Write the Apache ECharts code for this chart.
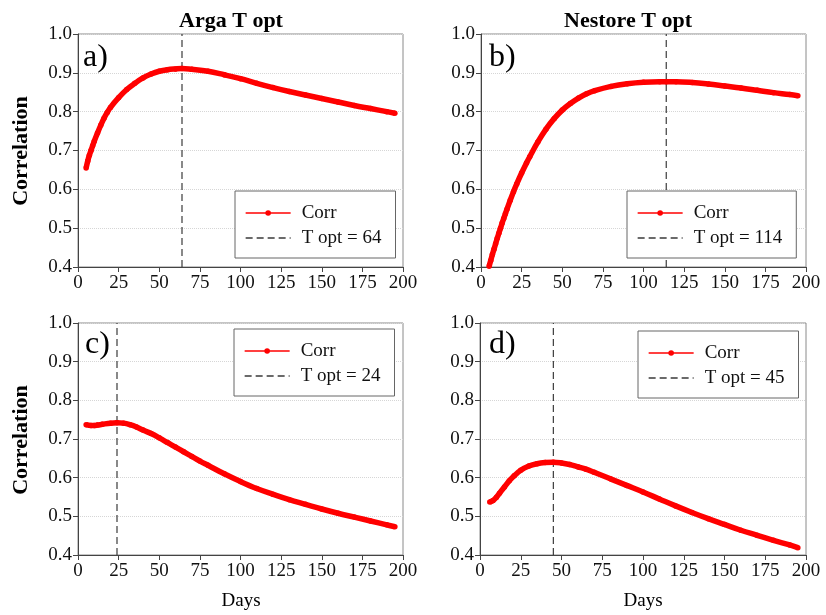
<!DOCTYPE html>
<html>
<head>
<meta charset="utf-8">
<script src="https://cdn.jsdelivr.net/npm/echarts@6/dist/echarts.min.js"></script>
<style>
  html, body { margin: 0; padding: 0; background: #fff; }
  #chart { width: 826px; height: 615px; }
</style>
</head>
<body>
<div id="chart"></div>
<script>
// Correlation against moving-window length (days) for the four cases
const daysA = [5, 6, 7, 8, 9, 10, 12, 14, 16, 18, 20, 25, 30, 35, 40, 45, 50, 55, 60, 64, 70, 80, 90, 100, 110, 120, 130, 140, 150, 160, 170, 180, 190, 195];
const corrA = [0.655, 0.673, 0.688, 0.700, 0.712, 0.724, 0.745, 0.765, 0.783, 0.798, 0.811, 0.836, 0.857, 0.873, 0.887, 0.897, 0.904, 0.908, 0.910, 0.911, 0.909, 0.904, 0.895, 0.885, 0.873, 0.862, 0.852, 0.843, 0.834, 0.825, 0.816, 0.808, 0.800, 0.796];

const daysB = [5, 6, 7, 8, 9, 10, 11, 12, 13, 14, 15, 16, 18, 20, 22, 25, 28, 30, 35, 40, 45, 50, 55, 60, 65, 70, 80, 90, 100, 110, 114, 120, 130, 140, 150, 160, 170, 180, 190, 195];
const corrB = [0.402, 0.417, 0.432, 0.446, 0.460, 0.474, 0.487, 0.500, 0.513, 0.525, 0.537, 0.549, 0.572, 0.594, 0.614, 0.642, 0.668, 0.684, 0.722, 0.755, 0.782, 0.804, 0.821, 0.835, 0.846, 0.854, 0.865, 0.872, 0.876, 0.877, 0.877, 0.877, 0.875, 0.871, 0.866, 0.861, 0.855, 0.849, 0.844, 0.841];

const daysC = [5, 8, 10, 12, 15, 20, 24, 28, 32, 36, 40, 45, 50, 55, 60, 65, 70, 75, 80, 90, 100, 110, 120, 130, 140, 150, 160, 170, 180, 190, 195];
const corrC = [0.737, 0.735, 0.735, 0.736, 0.738, 0.741, 0.742, 0.741, 0.737, 0.731, 0.723, 0.714, 0.703, 0.691, 0.679, 0.667, 0.655, 0.643, 0.632, 0.610, 0.590, 0.572, 0.557, 0.543, 0.531, 0.519, 0.508, 0.498, 0.488, 0.478, 0.473];

const daysD = [6, 8, 10, 12, 15, 18, 21, 25, 30, 35, 40, 45, 50, 55, 60, 65, 70, 80, 90, 100, 110, 120, 130, 140, 150, 160, 170, 180, 190, 195];
const corrD = [0.537, 0.541, 0.549, 0.560, 0.576, 0.592, 0.605, 0.619, 0.630, 0.636, 0.639, 0.640, 0.638, 0.634, 0.628, 0.622, 0.614, 0.597, 0.580, 0.563, 0.545, 0.527, 0.510, 0.494, 0.479, 0.464, 0.451, 0.438, 0.426, 0.419];

// Optimal window length for each case
const tOpt = [64, 114, 24, 45];
const titles = ['Arga T opt', 'Nestore T opt'];
const panelLetters = ['a)', 'b)', 'c)', 'd)'];

// Axis ranges and tick spacing
const xMin = 0, xMax = 200, xStep = 25;
const yMin = 0.4, yMax = 1.0, yStep = 0.1;

const serif = "'Liberation Serif', 'Times New Roman', serif";
const panels = [
  { days: daysA, corr: corrA },
  { days: daysB, corr: corrB },
  { days: daysC, corr: corrC },
  { days: daysD, corr: corrD }
];

const grids = [
  { left: 78, top: 34, width: 325, height: 233 },
  { left: 481, top: 34, width: 325, height: 233 },
  { left: 78, top: 323, width: 325, height: 232 },
  { left: 480, top: 323, width: 326, height: 232 }
].map(g => Object.assign({ show: true, borderColor: '#8a8a8a', borderWidth: 1, backgroundColor: 'transparent' }, g));

const xAxes = grids.map((g, i) => ({
  type: 'value', gridIndex: i, min: xMin, max: xMax, interval: xStep,
  axisLine: { show: true, lineStyle: { color: '#444', width: 1 } },
  axisTick: { show: true, inside: false, length: 5, lineStyle: { color: '#444' } },
  axisLabel: { color: '#111', fontFamily: serif, fontSize: 19, margin: 7 },
  splitLine: { show: false }
}));

const yAxes = grids.map((g, i) => ({
  type: 'value', gridIndex: i, min: yMin, max: yMax, interval: yStep,
  axisLine: { show: true, lineStyle: { color: '#444', width: 1 } },
  axisTick: { show: true, inside: false, length: 5, lineStyle: { color: '#444' } },
  axisLabel: { color: '#111', fontFamily: serif, fontSize: 19, margin: 6, formatter: v => v.toFixed(1) },
  splitLine: { show: true, lineStyle: { color: '#d6d6d6', type: 'dotted', width: 1 } }
}));

const series = [];
panels.forEach((p, i) => {
  // vertical dashed marker at the optimal window length
  series.push({
    name: 'T opt = ' + tOpt[i],
    type: 'line', xAxisIndex: i, yAxisIndex: i,
    data: [[tOpt[i], yMin], [tOpt[i], yMax]],
    symbol: 'none',
    itemStyle: { color: 'rgba(0,0,0,0)' },
    lineStyle: { color: '#3a3a3a', width: 1.2, type: [7, 4] },
    silent: true, z: 2, animation: false
  });
  // correlation curve
  series.push({
    name: 'Corr',
    type: 'line', xAxisIndex: i, yAxisIndex: i,
    data: p.days.map((d, k) => [d, p.corr[k]]),
    smooth: 0.4,
    symbol: 'circle', symbolSize: 5.5, showSymbol: true,
    itemStyle: { color: '#ff0000' },
    lineStyle: { color: '#ff0000', width: 5.5 },
    z: 3, animation: false
  });
});

const legendPos = [
  { left: 235, top: 191 },
  { left: 627, top: 191 },
  { left: 234, top: 329 },
  { left: 638, top: 331 }
];
const legends = legendPos.map((pos, i) => Object.assign({
  orient: 'vertical',
  data: ['Corr', 'T opt = ' + tOpt[i]],
  itemWidth: 45, itemHeight: 7, itemGap: 3,
  padding: [11, 14, 9, 10],
  borderColor: '#666', borderWidth: 1, backgroundColor: '#fff',
  lineStyle: { width: 1.3 },
  selectedMode: false,
  textStyle: { fontFamily: serif, fontSize: 19, color: '#111', lineHeight: 22, padding: [0, 0, 0, 6] }
}, pos));

const txt = (x, y, s, size, weight, extra) => ({
  type: 'text', x: x, y: y, silent: true,
  style: Object.assign({ text: s, fontFamily: serif, fontSize: size, fontWeight: weight, fill: '#000', align: 'center', verticalAlign: 'middle' }, extra || {})
});

const graphic = [
  txt(231, 21, titles[0], 22, 'bold'),
  txt(628, 21, titles[1], 22, 'bold'),
  Object.assign(txt(21, 151, 'Correlation', 22, 'bold'), { rotation: Math.PI / 2 }),
  Object.assign(txt(21, 440, 'Correlation', 22, 'bold'), { rotation: Math.PI / 2 }),
  txt(241, 601, 'Days', 19, 'normal'),
  txt(643, 601, 'Days', 19, 'normal'),
  txt(83, 58, panelLetters[0], 32, 'normal', { align: 'left' }),
  txt(489, 58, panelLetters[1], 32, 'normal', { align: 'left' }),
  txt(85, 345, panelLetters[2], 32, 'normal', { align: 'left' }),
  txt(489, 345, panelLetters[3], 32, 'normal', { align: 'left' })
];

const chart = echarts.init(document.getElementById('chart'), null, { renderer: 'canvas' });
chart.setOption({
  backgroundColor: '#fff',
  animation: false,
  grid: grids,
  xAxis: xAxes,
  yAxis: yAxes,
  legend: legends,
  series: series,
  graphic: graphic
});
</script>
</body>
</html>
